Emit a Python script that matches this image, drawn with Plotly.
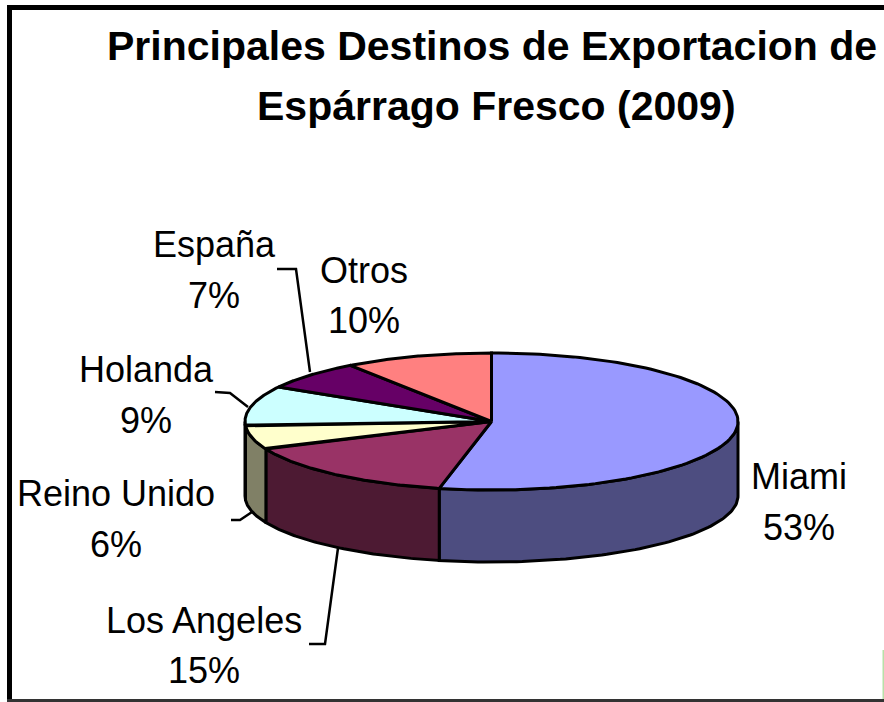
import numpy as np
import plotly.graph_objects as go

# Data (labels show the rounded shares)
categories = ["Miami", "Los Angeles", "Reino Unido", "Holanda", "España", "Otros"]
values = [53.4, 15.0, 5.6, 9.4, 6.9, 9.7]
title_lines = ["Principales Destinos de Exportacion de", "Espárrago Fresco (2009)"]

top_colors = ["#9999FF", "#993366", "#FFFFCC", "#CCFFFF", "#660066", "#FF8080"]
side_colors = ["#4D4D80", "#4D1A33", "#808066", "#668080", "#330033", "#804040"]

W, H = 884, 702
CX, CY, RX, RY = 491.5, 421.5, 246.5, 68.5
BOT_CY, BOT_RY = 496, 66
FONT = "Liberation Sans"


def top_pt(t):
    return CX + RX * np.sin(t), CY - RY * np.cos(t)


def bot_pt(t):
    return CX + RX * np.sin(t), BOT_CY - BOT_RY * np.cos(t)


fig = go.Figure()
edges = np.concatenate([[0], np.cumsum(values)]) / sum(values) * 2 * np.pi


def add_poly(x, y, color):
    fig.add_trace(go.Scatter(x=x, y=y, mode="lines", fill="toself", fillcolor=color,
                             line=dict(color="#000000", width=3), hoverinfo="skip",
                             showlegend=False))


# side walls (front half only)
for i, c in enumerate(side_colors):
    a, b = max(edges[i], np.pi / 2), min(edges[i + 1], 3 * np.pi / 2)
    if a < b:
        t = np.linspace(a, b, 80)
        xt, yt = top_pt(t)
        xb, yb = bot_pt(t[::-1])
        add_poly(np.r_[xt, xb, xt[0]], np.r_[yt, yb, yt[0]], c)

# top faces
for i, c in enumerate(top_colors):
    t = np.linspace(edges[i], edges[i + 1], 120)
    xt, yt = top_pt(t)
    add_poly(np.r_[CX, xt, CX], np.r_[CY, yt, CY], c)

# label layout: centre x, first-line y, second-line y
label_pos = [(799, 476, 527), (204, 620, 670), (116, 493, 544),
             (146, 369, 420), (214, 244, 295), (364, 270, 320)]
annots = []
for name, v, (x, y1, y2) in zip(categories, values, label_pos):
    for txt, y in ((name, y1), (f"{round(v)}%", y2)):
        annots.append(dict(x=x, y=y, text=txt, showarrow=False, xanchor="center", yanchor="middle",
                           font=dict(family=FONT, size=36, color="#000000")))
for txt, (x, y) in zip(title_lines, [(492, 46), (496, 106)]):
    annots.append(dict(x=x, y=y, text=f"<b>{txt}</b>", showarrow=False, xanchor="center",
                       yanchor="middle", font=dict(family=FONT, size=41, color="#000000")))

leader = [
    [(277, 269), (296, 269), (310, 372)],
    [(215, 392), (230, 393), (248, 407)],
    [(231, 520), (240, 520), (252, 512)],
    [(309, 644), (325, 644), (338, 548)],
]
shapes = []
for pts in leader:
    path = "M " + " L ".join(f"{x},{y}" for x, y in pts)
    shapes.append(dict(type="path", path=path, xref="x", yref="y",
                       line=dict(color="#000000", width=2.5)))
# frame
shapes += [
    dict(type="rect", xref="x", yref="y", x0=7, x1=12, y0=5, y1=699, fillcolor="#000000", line_width=0),
    dict(type="rect", xref="x", yref="y", x0=7, x1=884, y0=5, y1=10, fillcolor="#000000", line_width=0),
    dict(type="rect", xref="x", yref="y", x0=7, x1=884, y0=699, y1=702, fillcolor="#333333", line_width=0),
    dict(type="rect", xref="x", yref="y", x0=882.5, x1=884, y0=650, y1=699, fillcolor="#B8E0A8", line_width=0),
]

fig.update_layout(
    width=W, height=H, margin=dict(l=0, r=0, t=0, b=0),
    paper_bgcolor="#FFFFFF", plot_bgcolor="#FFFFFF", showlegend=False,
    xaxis=dict(range=[0, W], visible=False, fixedrange=True),
    yaxis=dict(range=[H, 0], visible=False, fixedrange=True),
    annotations=annots, shapes=shapes,
)
fig.write_html("out.html", config={"displayModeBar": False},
               post_script="document.body.style.margin='0';document.body.style.overflow='hidden';")
